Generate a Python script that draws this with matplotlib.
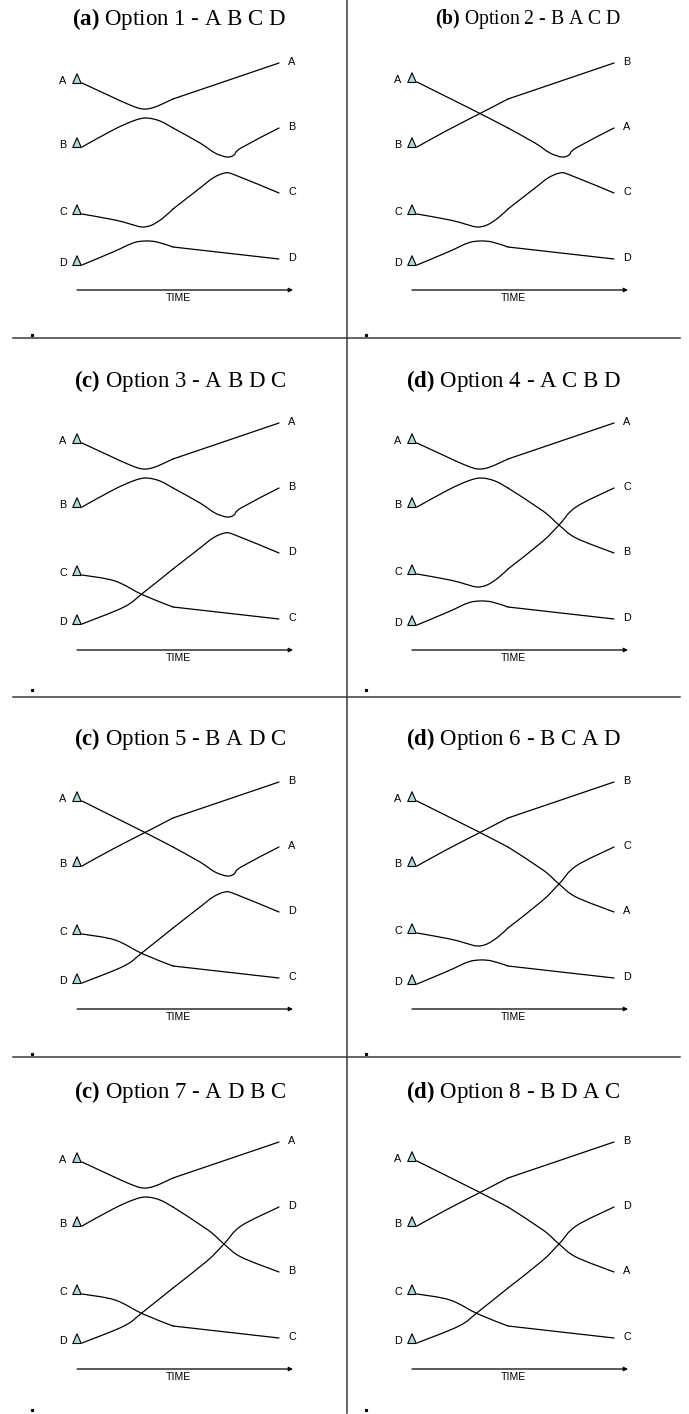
import matplotlib
matplotlib.use('Agg')
import matplotlib.pyplot as plt
from matplotlib.lines import Line2D
from matplotlib.path import Path
from matplotlib.patches import PathPatch

plt.rcParams['mathtext.fontset'] = 'custom'
plt.rcParams['mathtext.rm'] = 'Liberation Serif'
plt.rcParams['mathtext.bf'] = 'Liberation Serif:bold'

W, H, DPI = 689, 1414, 100

# ---- curve pieces (time position, vertical position) ----
# left halves: start slot -> middle slot
L_AA_t = [82, 110, 130, 143, 155, 173]
L_AA_y = [83, 96, 105, 109, 107, 99]
L_AB_t = [82, 108, 144, 173]
L_AB_y = [82, 95, 113, 128]
L_BA_t = [82, 111, 144, 173]
L_BA_y = [147, 131, 114, 99]
L_BB_t = [82, 113, 133, 146, 160, 173]
L_BB_y = [147, 130, 121, 118, 121, 128]
L_CC_t = [82, 115, 130, 142, 152, 163, 173]
L_CC_y = [214, 220, 224, 227, 225, 218, 209]
L_CD_t = [82, 115, 143, 173]
L_CD_y = [215, 221, 235, 247]
L_DD_t = [82, 113, 133, 145, 157, 173]
L_DD_y = [265, 252, 243, 241, 242, 247]
L_DC_t = [82, 124, 143, 173]
L_DC_y = [264, 247, 233, 209]
# right halves: middle slot -> end slot
R_A1_t = [173, 279]
R_A1_y = [99, 63]
R_B2_t = [173, 200, 215, 227, 234, 241, 279]
R_B2_y = [128, 143, 153, 157, 155, 148, 128]
R_B3_t = [173, 208, 224, 241, 279]
R_B3_y = [128, 151, 165, 178, 193]
R_C3_t = [173, 200, 213, 225, 235, 279]
R_C3_y = [209, 188, 178, 173, 175, 193]
R_C2_t = [173, 207, 224, 241, 279]
R_C2_y = [209, 182, 165, 147, 128]
R_D4_t = [173, 279]
R_D4_y = [247, 259]

PIECES = {
    'L_AA': (L_AA_t, L_AA_y), 'L_AB': (L_AB_t, L_AB_y),
    'L_BA': (L_BA_t, L_BA_y), 'L_BB': (L_BB_t, L_BB_y),
    'L_CC': (L_CC_t, L_CC_y), 'L_CD': (L_CD_t, L_CD_y),
    'L_DD': (L_DD_t, L_DD_y), 'L_DC': (L_DC_t, L_DC_y),
    'R_A1': (R_A1_t, R_A1_y), 'R_B2': (R_B2_t, R_B2_y),
    'R_B3': (R_B3_t, R_B3_y), 'R_C3': (R_C3_t, R_C3_y),
    'R_C2': (R_C2_t, R_C2_y), 'R_D4': (R_D4_t, R_D4_y),
}

panel_letters = ['a', 'b', 'c', 'd', 'c', 'd', 'c', 'd']
option_orders = ['A B C D', 'B A C D', 'A B D C', 'A C B D',
                 'B A D C', 'B C A D', 'A D B C', 'B D A C']
series_names = ['A', 'B', 'C', 'D']
option_paths = [
    {'A': ('L_AA', 'R_A1'), 'B': ('L_BB', 'R_B2'), 'C': ('L_CC', 'R_C3'), 'D': ('L_DD', 'R_D4')},
    {'A': ('L_AB', 'R_B2'), 'B': ('L_BA', 'R_A1'), 'C': ('L_CC', 'R_C3'), 'D': ('L_DD', 'R_D4')},
    {'A': ('L_AA', 'R_A1'), 'B': ('L_BB', 'R_B2'), 'C': ('L_CD', 'R_D4'), 'D': ('L_DC', 'R_C3')},
    {'A': ('L_AA', 'R_A1'), 'B': ('L_BB', 'R_B3'), 'C': ('L_CC', 'R_C2'), 'D': ('L_DD', 'R_D4')},
    {'A': ('L_AB', 'R_B2'), 'B': ('L_BA', 'R_A1'), 'C': ('L_CD', 'R_D4'), 'D': ('L_DC', 'R_C3')},
    {'A': ('L_AB', 'R_B3'), 'B': ('L_BA', 'R_A1'), 'C': ('L_CC', 'R_C2'), 'D': ('L_DD', 'R_D4')},
    {'A': ('L_AA', 'R_A1'), 'B': ('L_BB', 'R_B3'), 'C': ('L_CD', 'R_D4'), 'D': ('L_DC', 'R_C2')},
    {'A': ('L_AB', 'R_B3'), 'B': ('L_BA', 'R_A1'), 'C': ('L_CD', 'R_D4'), 'D': ('L_DC', 'R_C2')},
]

# ---- layout ----
row_off = [0, 360, 719, 1079]
col_off = [0, 335]
title_y = [19, 21, 20, 13]
title_size = [16.5, 14.2, 16.5, 16.5, 16.5, 16.5, 16.5, 16.5]
PW, PH = 346, 338

tri = Path([(-1.15, 0.0), (-0.15, 0.0), (-0.65, 1.15), (-1.15, 0.0)],
           [Path.MOVETO, Path.LINETO, Path.LINETO, Path.CLOSEPOLY])


def smooth_path(ts, ys):
    """Curved path (cubic Bezier) passing through every read point."""
    pts = list(zip(ts, ys))
    verts = [pts[0]]
    codes = [Path.MOVETO]
    n = len(pts)
    for k in range(n - 1):
        p0 = pts[k - 1] if k > 0 else pts[k]
        p1 = pts[k]
        p2 = pts[k + 1]
        p3 = pts[k + 2] if k + 2 < n else pts[k + 1]
        c1 = (p1[0] + (p2[0] - p0[0]) / 6.0, p1[1] + (p2[1] - p0[1]) / 6.0)
        c2 = (p2[0] - (p3[0] - p1[0]) / 6.0, p2[1] - (p3[1] - p1[1]) / 6.0)
        verts += [c1, c2, p2]
        codes += [Path.CURVE4] * 3
    return Path(verts, codes)


fig = plt.figure(figsize=(W / DPI, H / DPI), dpi=DPI)
fig.patch.set_facecolor('white')

for i in range(8):
    r, c = divmod(i, 2)
    x0, y0 = col_off[c], row_off[r]
    ax = fig.add_axes([x0 / W, 1 - (y0 + PH) / H, PW / W, PH / H])
    ax.set_xlim(0, PW)
    ax.set_ylim(PH, 0)
    ax.axis('off')
    ax.patch.set_alpha(0)

    for name in series_names:
        lp, rp = option_paths[i][name]
        for piece in (lp, rp):
            pt, py = PIECES[piece]
            ax.add_patch(PathPatch(smooth_path(pt, py), fill=False, edgecolor='black',
                                   lw=0.9, joinstyle='round', capstyle='round',
                                   clip_on=False))
        t0, y0_ = PIECES[lp][0][0], PIECES[lp][1][0]
        t1, y1_ = PIECES[rp][0][-1], PIECES[rp][1][-1]
        ax.plot([t0], [y0_], linestyle='none', marker=tri, ms=14,
                mfc='#b0dada', mec='black', mew=0.8, clip_on=False, zorder=3)
        ax.annotate(name, xy=(t0, y0_), xytext=(-19, 2), textcoords='offset pixels',
                    ha='center', va='center', fontsize=7.8, family='Liberation Sans')
        ax.annotate(name, xy=(t1, y1_), xytext=(13, 1), textcoords='offset pixels',
                    ha='center', va='center', fontsize=7.8, family='Liberation Sans')

    ax.annotate('', xy=(293, 290), xytext=(77, 290),
                arrowprops=dict(arrowstyle='-|>', color='black', lw=0.9,
                                mutation_scale=6, shrinkA=0, shrinkB=0))
    ax.text(178, 298, 'TIME', ha='center', va='center', fontsize=7.6,
            family='Liberation Sans')
    ax.text(286, title_y[r], r'$\mathbf{(' + panel_letters[i] + r')}$ Option '
            + str(i + 1) + ' - ' + option_orders[i],
            ha='right', va='center', fontsize=title_size[i], family='Liberation Serif')

# separators
for ys in [338, 697, 1057]:
    fig.add_artist(Line2D([13 / W, 680 / W], [1 - ys / H] * 2, transform=fig.transFigure,
                          color='#3a3a3a', lw=1.1))
fig.add_artist(Line2D([346.5 / W, 346.5 / W], [1, 1 - 1413 / H], transform=fig.transFigure,
                      color='#3a3a3a', lw=1.1))
for yd in [335, 690, 1054, 1410]:
    for xd in [32, 366]:
        fig.add_artist(Line2D([xd / W], [1 - yd / H], transform=fig.transFigure,
                              marker='s', ms=1.3, color='black', linestyle='none'))

fig.savefig('out.png', dpi=DPI)
